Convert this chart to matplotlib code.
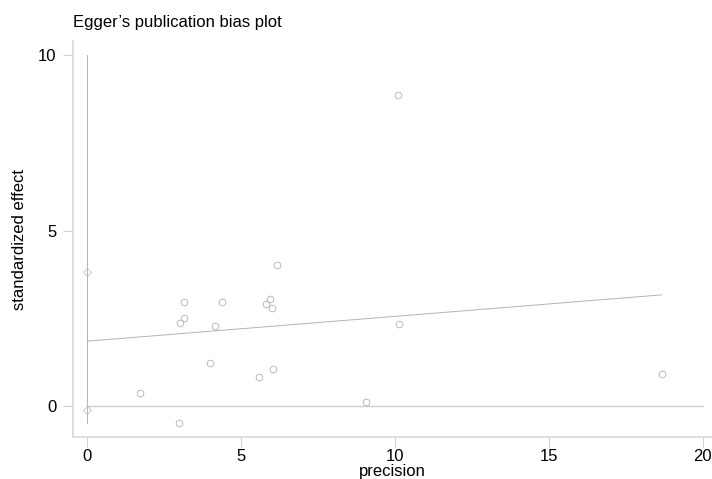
import matplotlib as mpl
mpl.use("Agg")
mpl.rcParams.update({'font.size': 12, 'font.family': ['Liberation Sans', 'DejaVu Sans']})
import matplotlib.pyplot as plt
import numpy as np

# study points
precision = [6.19, 3.15, 4.39, 5.95, 5.83, 6.00, 3.17, 3.02, 4.16, 3.99,
             6.03, 5.58, 1.73, 2.99, 10.15, 9.08, 10.11, 18.68]
std_effect = [4.01, 2.98, 2.98, 3.06, 2.90, 2.80, 2.51, 2.36, 2.28, 1.23,
              1.07, 0.82, 0.37, -0.48, 2.35, 0.13, 8.88, 0.91]

# intercept CI ends (diamonds at x = 0)
ci_x = [0, 0]
ci_y = [3.82, -0.11]

# fitted line
fit_x = [0, 18.66]
fit_y = [1.85, 3.17]

# reference lines
vline_y = [-0.48, 10]
hline_x = [0, 20]

xticks = [0, 5, 10, 15, 20]
yticks = [0, 5, 10]

fig = plt.figure(figsize=(7.12, 4.79), dpi=100)
ax = fig.add_axes([0.1025, 0.0877, 0.8975, 0.8263])

line_col = '#b4b4b4'
ax.plot([0, 0], vline_y, color=line_col, lw=0.7)
ax.plot(hline_x, [0, 0], color='#d0d0d0', lw=1.0)
ax.plot(fit_x, fit_y, color=line_col, lw=0.7)
ax.plot(precision, std_effect, 'o', ms=4.8, mfc='none', mec='#b0b0b0', mew=0.6)
ax.plot(ci_x, ci_y, 'D', ms=3.8, mfc='none', mec='#b8b8b8', mew=0.5)

ax.set_xlim(-0.45, 20.3)
ax.set_ylim(-0.88, 10.4)
ax.set_xticks(xticks)
ax.set_yticks(yticks)

for s in ['top', 'right']:
    ax.spines[s].set_visible(False)
for s in ['left', 'bottom']:
    ax.spines[s].set_color('#d8d8d8')
    ax.spines[s].set_linewidth(1.2)
ax.tick_params(length=7, width=0.8, color='#d0d0d0', labelsize=12)
ax.tick_params(axis='x', pad=2)
ax.tick_params(axis='y', pad=5)

ax.set_xlabel('precision', fontsize=12, labelpad=-0.5)
ax.set_ylabel('standardized effect', fontsize=12, labelpad=8)
ax.set_title('Egger\u2019s publication bias plot', loc='left', fontsize=12, pad=10)

fig.savefig('out.png', dpi=100)
